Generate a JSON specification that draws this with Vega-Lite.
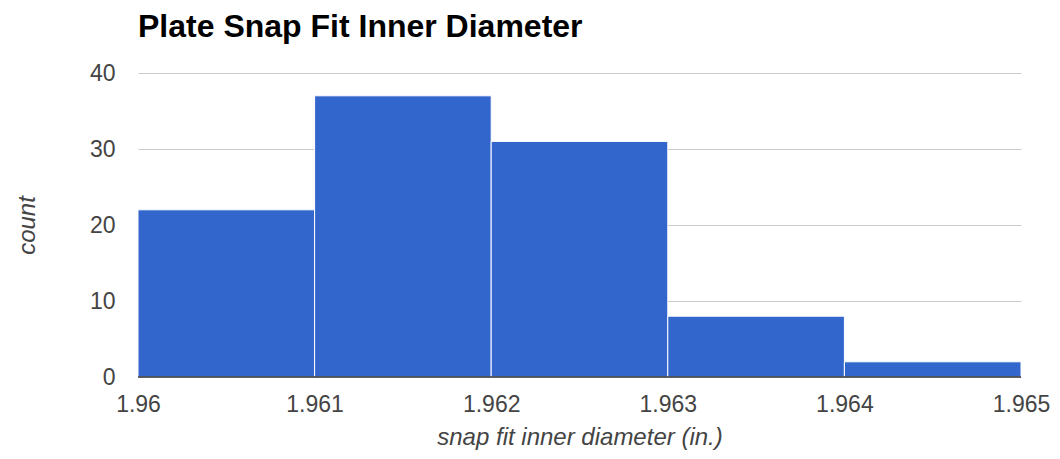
{
  "$schema": "https://vega.github.io/schema/vega-lite/v6.json",
  "autosize": "none",
  "width": 883,
  "height": 304,
  "padding": {"left": 138, "top": 73, "right": 39, "bottom": 82},
  "background": "white",
  "title": {
    "text": "Plate Snap Fit Inner Diameter",
    "anchor": "start",
    "font": "Liberation Sans",
    "fontSize": 32,
    "fontWeight": "bold",
    "color": "#000000",
    "offset": 18,
    "frame": "group"
  },
  "config": {
    "view": {"stroke": null},
    "axis": {"labelFont": "Liberation Sans", "titleFont": "Liberation Sans"}
  },
  "data": {
    "values": [
      {"bin_start": 1.96, "bin_end": 1.961, "count": 22},
      {"bin_start": 1.961, "bin_end": 1.962, "count": 37},
      {"bin_start": 1.962, "bin_end": 1.963, "count": 31},
      {"bin_start": 1.963, "bin_end": 1.964, "count": 8},
      {"bin_start": 1.964, "bin_end": 1.965, "count": 2}
    ]
  },
  "layer": [
    {
      "mark": {"type": "bar", "color": "#3366cc", "stroke": "white", "strokeWidth": 1},
      "encoding": {
        "x": {
          "field": "bin_start",
          "type": "quantitative",
          "scale": {"domain": [1.96, 1.965], "nice": false, "zero": false},
          "axis": {
            "title": "snap fit inner diameter (in.)",
            "values": [1.96, 1.961, 1.962, 1.963, 1.964, 1.965],
            "format": ".4~r",
            "grid": false,
            "ticks": false,
            "domain": false,
            "labelFlush": false,
            "labelFontSize": 23,
            "labelColor": "#444444",
            "labelPadding": 16,
            "titleFontSize": 24,
            "titleFontStyle": "italic",
            "titleFontWeight": "normal",
            "titleColor": "#444444",
            "titlePadding": 9
          }
        },
        "x2": {"field": "bin_end"},
        "y": {
          "field": "count",
          "type": "quantitative",
          "scale": {"domain": [0, 40], "nice": false},
          "axis": {
            "title": "count",
            "values": [0, 10, 20, 30, 40],
            "grid": true,
            "gridColor": "#cccccc",
            "ticks": false,
            "domain": false,
            "labelFontSize": 23,
            "labelColor": "#444444",
            "labelPadding": 23,
            "titleFontSize": 24,
            "titleFontStyle": "italic",
            "titleFontWeight": "normal",
            "titleColor": "#444444",
            "titlePadding": 50
          }
        },
        "y2": {"datum": 0}
      }
    },
    {
      "data": {"values": [{"y": 0}]},
      "mark": {"type": "rule", "color": "#333333", "strokeWidth": 1.5},
      "encoding": {"y": {"field": "y", "type": "quantitative"}}
    }
  ]
}
